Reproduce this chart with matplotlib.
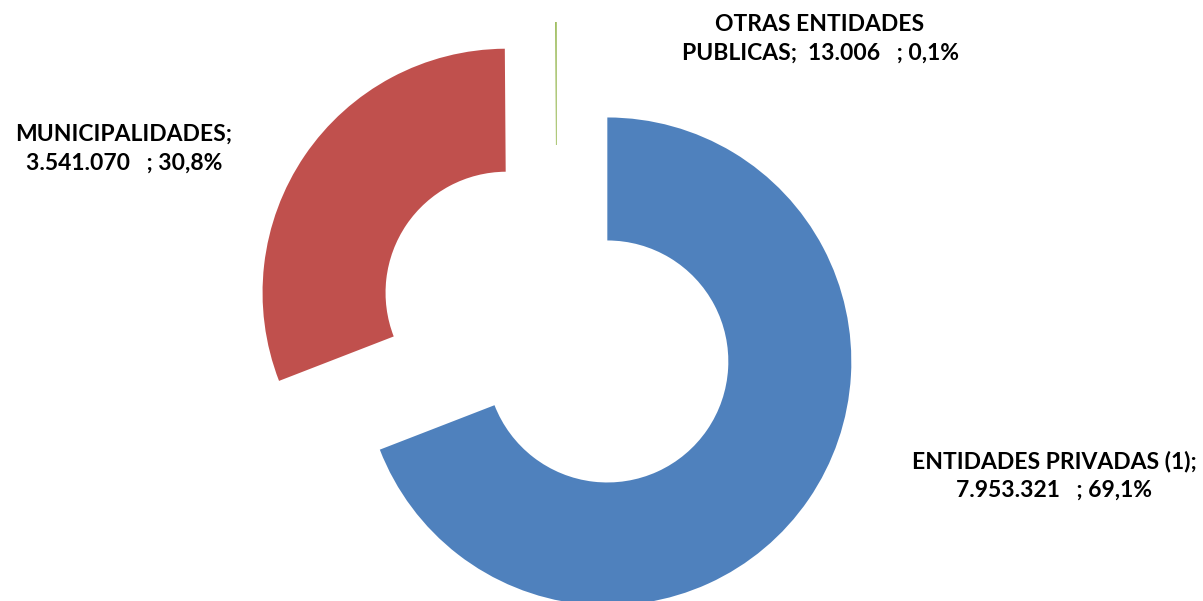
import matplotlib.pyplot as plt

categorias = ['ENTIDADES PRIVADAS (1)', 'MUNICIPALIDADES', 'OTRAS ENTIDADES\nPUBLICAS']
valores = [7953321, 3541070, 13006]
valores_txt = ['7.953.321', '3.541.070', '13.006']
porcentajes = ['69,1%', '30,8%', '0,1%']
colores = ['#4F81BD', '#C0504D', '#9BBB59']

fig = plt.figure(figsize=(12.03, 6.01), dpi=100)
ax = fig.add_axes([0, 0, 1, 1])

radio = 244
ax.pie(valores, colors=colores, startangle=90, counterclock=False,
       center=(557, 274), radius=radio, explode=[61, 61, 61],
       wedgeprops=dict(width=123, linewidth=0.6, edgecolor='none'),
       frame=True)
ax.set_xlim(0, 1203)
ax.set_ylim(0, 601)
ax.set_aspect('equal')
ax.axis('off')

fuente = dict(fontsize=16.5, fontweight='bold', family='Lato', color='black',
              ha='center', va='center', linespacing=1.45)

ax.text(1054, 601 - 476, categorias[0] + ';\n' + valores_txt[0] + '   ; ' + porcentajes[0], **fuente)
ax.text(124, 601 - 149, categorias[1] + ';\n' + valores_txt[1] + '   ; ' + porcentajes[1], **fuente)
ax.text(820, 601 - 39, 'OTRAS ENTIDADES\nPUBLICAS;  ' + valores_txt[2] + '   ; ' + porcentajes[2], **fuente)

fig.savefig('out.png', dpi=100)
